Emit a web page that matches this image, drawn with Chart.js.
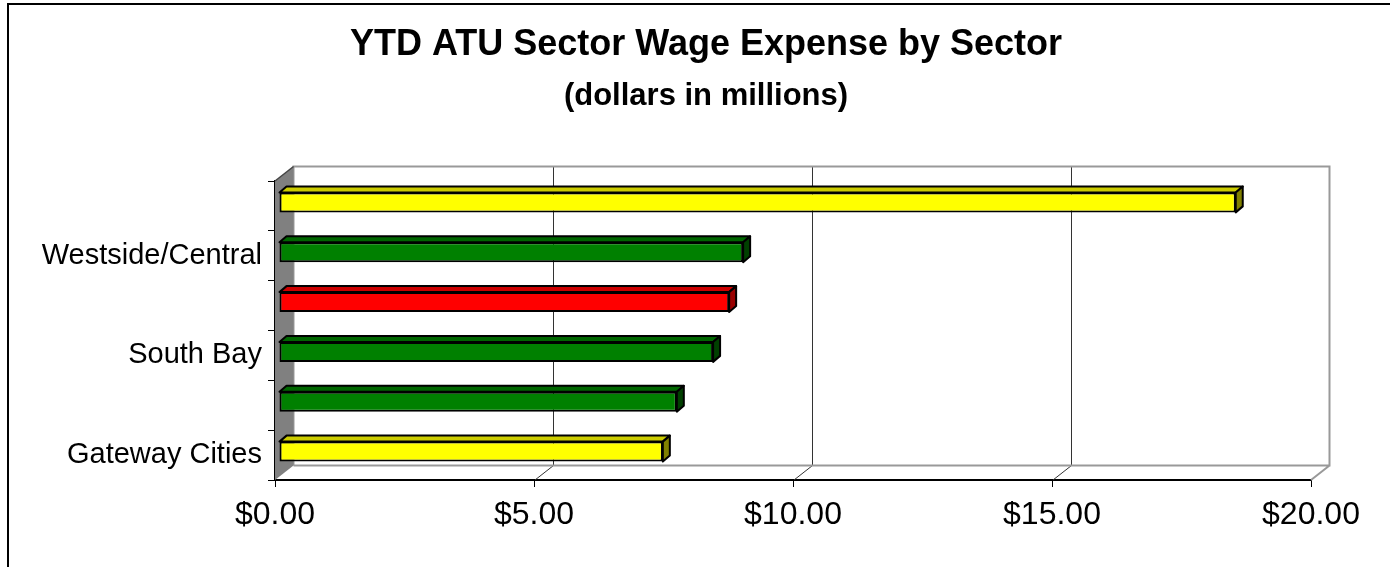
<!DOCTYPE html>
<html lang="en">
<head>
    <meta charset="UTF-8" />
    <title>YTD ATU Sector Wage Expense by Sector</title>
    <style>
        html, body { margin: 0; padding: 0; background: #fff; }
        #wrap { width: 1390px; height: 567px; position: relative; }
    </style>
</head>
<body>
    <div id="wrap"><canvas id="myChart" width="1390" height="567"></canvas></div>

    <script src="https://cdn.jsdelivr.net/npm/chart.js"></script>
    <script>
        // sectors, top to bottom (only every other name shows on the axis)
        const sectors = ['', 'Westside/Central', '', 'South Bay', '', 'Gateway Cities'];
        // YTD wage expense, $ millions
        const wages = [18.47, 8.96, 8.69, 8.38, 7.68, 7.41];
        const barColors = ['#FFFF00', '#008000', '#FF0000', '#008000', '#008000', '#FFFF00'];
        const topColors = ['#CCCC00', '#006600', '#CC0000', '#006600', '#006600', '#CCCC00'];
        const sideColors = ['#808000', '#004000', '#990000', '#004000', '#004000', '#808000'];
        const xTicks = [0, 5, 10, 15, 20];

        const FONT = 'Arial, "Liberation Sans", sans-serif';
        const DX = 18.5, DY = -14.5;   // depth of the back wall
        const BX = 7, BY = -6;         // depth of a bar
        const SHIFT_X = 4, SHIFT_Y = -3.5;

        // frame, walls, floor and the 3d sides of the bars
        const threeD = {
            id: 'threeD',
            beforeDraw(chart) {
                const ctx = chart.ctx;
                ctx.save();
                ctx.fillStyle = '#fff';
                ctx.fillRect(0, 0, chart.width, chart.height);
                ctx.strokeStyle = '#000';
                ctx.lineWidth = 2;
                ctx.strokeRect(8, 4, chart.width + 20, chart.height + 20);
                ctx.restore();
            },
            beforeDatasetsDraw(chart) {
                const ctx = chart.ctx;
                const a = chart.chartArea;
                const xs = chart.scales.x;
                ctx.save();
                // back wall
                ctx.fillStyle = '#fff';
                ctx.fillRect(a.left + DX, a.top + DY, a.right - a.left, a.bottom - a.top);
                // grid lines on the wall and the floor
                ctx.lineWidth = 1;
                ctx.strokeStyle = '#333';
                xTicks.slice(1, -1).forEach(v => {
                    const px = Math.round(xs.getPixelForValue(v) + DX) + 0.5;
                    ctx.beginPath();
                    ctx.moveTo(px, a.top + DY);
                    ctx.lineTo(px, a.bottom + DY);
                    ctx.stroke();
                    ctx.beginPath();
                    ctx.moveTo(px, a.bottom + DY);
                    ctx.lineTo(px - DX, a.bottom);
                    ctx.stroke();
                });
                // wall / floor outline
                ctx.strokeStyle = '#999';
                ctx.lineWidth = 2;
                ctx.beginPath();
                ctx.moveTo(a.left + DX, a.bottom + DY);
                ctx.lineTo(a.left + DX, a.top + DY);
                ctx.lineTo(a.right + DX, a.top + DY);
                ctx.lineTo(a.right + DX, a.bottom + DY);
                ctx.lineTo(a.left + DX, a.bottom + DY);
                ctx.moveTo(a.right + DX, a.bottom + DY);
                ctx.lineTo(a.right, a.bottom);
                ctx.stroke();
                // side wall
                ctx.fillStyle = '#808080';
                ctx.beginPath();
                ctx.moveTo(a.left, a.top);
                ctx.lineTo(a.left + DX, a.top + DY);
                ctx.lineTo(a.left + DX, a.bottom + DY);
                ctx.lineTo(a.left, a.bottom);
                ctx.closePath();
                ctx.fill();
                ctx.strokeStyle = '#444';
                ctx.lineWidth = 1.5;
                ctx.beginPath();
                ctx.moveTo(a.left, a.top);
                ctx.lineTo(a.left + DX, a.top + DY);
                ctx.stroke();
                ctx.restore();

                ctx.save();
                ctx.translate(SHIFT_X, SHIFT_Y);
            },
            afterDatasetsDraw(chart) {
                const ctx = chart.ctx;
                const meta = chart.getDatasetMeta(0);
                ctx.lineWidth = 2;
                ctx.strokeStyle = '#000';
                ctx.lineJoin = 'round';
                meta.data.forEach((bar, i) => {
                    const p = bar.getProps(['x', 'y', 'base', 'height'], true);
                    const t = p.y - p.height / 2, b = p.y + p.height / 2;
                    ctx.fillStyle = topColors[i];
                    ctx.beginPath();
                    ctx.moveTo(p.base, t);
                    ctx.lineTo(p.base + BX, t + BY);
                    ctx.lineTo(p.x + BX, t + BY);
                    ctx.lineTo(p.x, t);
                    ctx.closePath();
                    ctx.fill();
                    ctx.stroke();
                    ctx.fillStyle = sideColors[i];
                    ctx.beginPath();
                    ctx.moveTo(p.x, t);
                    ctx.lineTo(p.x + BX, t + BY);
                    ctx.lineTo(p.x + BX, b + BY);
                    ctx.lineTo(p.x, b);
                    ctx.closePath();
                    ctx.fill();
                    ctx.stroke();
                });
                ctx.restore();
            }
        };

        const config = {
            type: 'bar',
            data: {
                labels: sectors,
                datasets: [{
                    data: wages,
                    backgroundColor: barColors,
                    borderColor: '#000',
                    borderWidth: 2,
                    borderSkipped: false,
                    barPercentage: 0.4,
                    categoryPercentage: 1
                }]
            },
            options: {
                indexAxis: 'y',
                responsive: false,
                animation: false,
                layout: { padding: { left: 30, right: 8, top: 0, bottom: 0 } },
                plugins: {
                    legend: { display: false },
                    tooltip: { enabled: false },
                    title: {
                        display: true,
                        text: 'YTD ATU Sector Wage Expense by Sector',
                        color: '#000',
                        font: { family: FONT, size: 36, weight: 'bold' },
                        padding: { top: 23.4, bottom: 0 }
                    },
                    subtitle: {
                        display: true,
                        text: '(dollars in millions)',
                        color: '#000',
                        font: { family: FONT, size: 31, weight: 'bold' },
                        padding: { top: 10.8, bottom: 66.4 }
                    }
                },
                scales: {
                    x: {
                        min: 0,
                        max: 20,
                        afterFit(scale) { scale.height = 87; },
                        afterBuildTicks(scale) { scale.ticks = xTicks.map(v => ({ value: v })); },
                        grid: { drawOnChartArea: false, drawTicks: true, tickLength: 7, tickColor: '#000' },
                        border: { color: '#000', width: 2 },
                        ticks: {
                            color: '#000',
                            padding: 9,
                            maxRotation: 0,
                            font: { family: FONT, size: 32 },
                            callback: v => '$' + v.toFixed(2)
                        }
                    },
                    y: {
                        afterFit(scale) { scale.width = 245; },
                        grid: { drawOnChartArea: false, drawTicks: true, tickLength: 7, tickColor: '#000', offset: true },
                        border: { color: '#000', width: 2 },
                        ticks: {
                            color: '#000',
                            padding: 6,
                            autoSkip: false,
                            font: { family: FONT, size: 29 }
                        }
                    },
                    // empty box on the right, keeps room for the depth of the walls
                    yRight: {
                        type: 'category',
                        position: 'right',
                        afterFit(scale) { scale.width = 71; },
                        grid: { display: false },
                        border: { display: false },
                        ticks: { display: false }
                    }
                }
            },
            plugins: [threeD]
        };

        const myChart = new Chart(document.getElementById('myChart'), config);
    </script>
</body>
</html>
